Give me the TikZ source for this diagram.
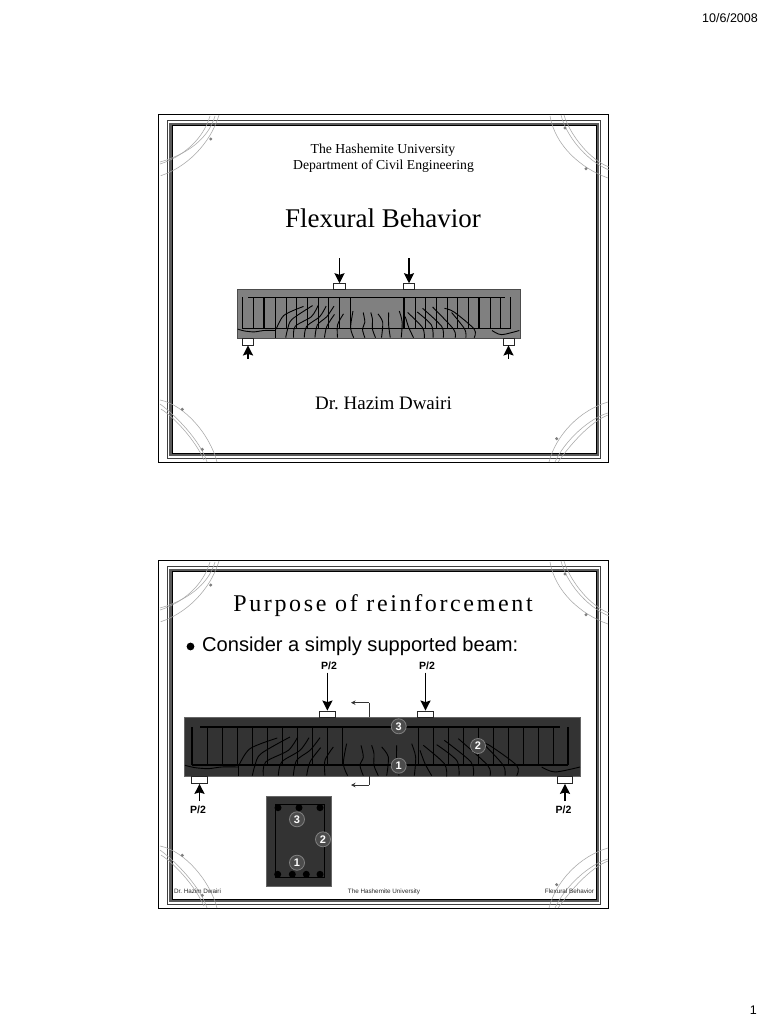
\documentclass[tikz,border=0pt]{standalone}
\usepackage{fontspec}
\setmainfont{Liberation Serif}
\newfontfamily\sansf{Liberation Sans}
\newfontfamily\spacedf[LetterSpace=11]{Liberation Serif}
\usetikzlibrary{arrows.meta}
\frenchspacing
\definecolor{band}{HTML}{5A5A5A}
\definecolor{arcgrey}{HTML}{A8A8A8}
\definecolor{dotgrey}{HTML}{808080}
\definecolor{beamdark}{HTML}{333333}
\definecolor{beamgrey}{HTML}{808080}
\tikzset{
  outerframe/.style={draw=black,line width=1.1pt},
  thinframe/.style={draw=black!75,line width=.7pt},
  bandframe/.style={draw=band,line width=2.8pt},
  innerframe/.style={draw=black,line width=.6pt},
  arcline/.style={draw=arcgrey,line width=.55pt},
  barline/.style={draw=black,line width=1.3pt},
  stirrup/.style={draw=black,line width=.8pt},
  stirrupthick/.style={draw=black,line width=1.3pt},
  crack/.style={draw=black,line width=.9pt,line join=round},
  pad/.style={draw=black!85,fill=white,line width=.8pt,inner sep=0pt},
  loadarrow/.style={draw=black,line width=1.6pt,-{Stealth[length=10pt,width=10pt,inset=1.5pt]}},
  sectarrow/.style={draw=black!80,line width=.7pt,-{Stealth[length=4.5pt,width=4.5pt]}},
  sectline/.style={draw=black!80,line width=.7pt},
  num/.style={circle,draw=black!50,fill=black!70,line width=.8pt,text=white,inner sep=0pt,minimum size=15pt,font=\sansf\bfseries\fontsize{11}{12}\selectfont},
  rebar/.style={circle,fill=black,inner sep=0pt,minimum size=7pt},
  ptxt/.style={font=\sansf\bfseries\fontsize{10.5}{12}\selectfont,inner sep=0pt},
  foot/.style={font=\sansf\fontsize{6.3}{7}\selectfont,text=black!85,inner sep=0pt,anchor=base},
  serifa/.style={font=\fontsize{13.7}{15}\selectfont,inner sep=0pt},
}
\newcommand{\slideframe}{%
  \draw[outerframe] (158.3,114.3) rectangle (608.7,462.7);
  \draw[thinframe] (167.3,120.7) rectangle (600.8,458.2);
  \draw[bandframe] (170.6,124.2) rectangle (597.6,455);
  \draw[innerframe] (172,125.6) rectangle (596.2,453.6);
  \draw[arcline] (160,164) .. controls (182,157) and (203,140) .. (210,116);
  \draw[arcline] (160,162) .. controls (185,155) and (208,140) .. (215,116);
  \draw[arcline] (160.7,175.7) .. controls (185,168) and (210,145) .. (219,115);
  \draw[arcline] (550,116) .. controls (555,145) and (580,168) .. (608,178);
  \draw[arcline] (561,115) .. controls (566,135) and (585,160) .. (609,170);
  \draw[arcline] (564,115) .. controls (570,135) and (590,160) .. (609,167);
  \draw[arcline] (160,400) .. controls (185,405) and (210,435) .. (217,462);
  \draw[arcline] (160,404) .. controls (175,415) and (200,440) .. (207,462);
  \draw[arcline] (161,409) .. controls (175,418) and (195,440) .. (204,460);
  \draw[arcline] (608,402) .. controls (580,410) and (556,435) .. (549,462);
  \draw[arcline] (608,413) .. controls (590,418) and (565,440) .. (555,462);
  \draw[arcline] (608,415) .. controls (590,422) and (570,445) .. (558,462);
  \fill[dotgrey] (210.7,139) circle (1.7) (565,128) circle (1.7) (586,168.7) circle (1.7)
     (182.3,409.3) circle (1.7) (202.3,449.3) circle (1.7) (556.7,438.7) circle (1.7);
}
\newcommand{\beamlines}{%
  \foreach \u in {23.3,38.3,53.7,68.7,83.7,98.7,113.7,128.7,143.7,158.7,234.7,249.7,264.7,279.7,294.7,309.7,324.7,339.7,354.7,369.7}
    {\draw[stirrup] (\u,10) -- (\u,48);}
  \draw[barline] (16,10) -- (376,10);
  \draw[barline] (8,48) -- (384,48);
  \draw[barline] (8,10) -- (8,48);
  \draw[barline] (384,10) -- (384,48);
  \begin{scope}[shift={(-9,-66.67)},scale=.3333]
    \draw[crack] plot[smooth] coordinates {(192,345) (225,295) (307,263)};
    \draw[crack] plot[smooth] coordinates {(190,345) (190,378)};
    \draw[crack] plot[smooth] coordinates {(232,376) (240,345) (258,310) (345,260)};
    \draw[crack] plot[smooth] coordinates {(265,376) (272,335) (340,300) (368,260)};
    \draw[crack] plot[smooth] coordinates {(310,376) (320,335) (375,300) (402,262)};
    \draw[crack] plot[smooth] coordinates {(355,376) (365,330) (405,300) (435,262)};
    \draw[crack] plot[smooth] coordinates {(395,376) (405,335) (437,292)};
    \draw[crack] plot[smooth] coordinates {(450,376) (450,330) (475,290)};
    \draw[crack] plot[smooth] coordinates {(518,376) (505,340) (515,280)};
    \draw[crack] plot[smooth] coordinates {(565,376) (555,345) (565,320) (558,285)};
    \draw[crack] plot[smooth] coordinates {(610,376) (597,345) (597,310) (590,285)};
    \draw[crack] plot[smooth] coordinates {(30,345) (60,352) (100,355) (140,350) (190,350)};
  \end{scope}
  \begin{scope}[shift={(191,-66.67)},scale=.3333]
    \draw[crack] plot[smooth] coordinates {(35,376) (40,320) (20,290)};
    \draw[crack] plot[smooth] coordinates {(72,376) (65,330) (65,285)};
    \draw[crack] plot[smooth] coordinates {(118,376) (122,320) (110,280)};
    \draw[crack] plot[smooth] coordinates {(170,376) (150,340) (135,300)};
    \draw[crack] plot[smooth] coordinates {(215,378) (208,340) (145,285)};
    \draw[crack] plot[smooth] coordinates {(252,376) (245,330) (185,283)};
    \draw[crack] plot[smooth] coordinates {(295,376) (288,335) (208,270)};
    \draw[crack] plot[smooth] coordinates {(345,376) (338,345) (250,265)};
    \draw[crack] plot[smooth] coordinates {(390,376) (385,345) (330,285)};
    \draw[crack] plot[smooth] coordinates {(425,376) (425,345) (340,283) (300,270)};
    \draw[crack] plot[smooth] coordinates {(500,350) (540,365) (615,350)};
  \end{scope}
}
\begin{document}
\begin{tikzpicture}[x=1pt,y=-1pt]
\useasboundingbox (0,0) rectangle (768,1024);
\fill[white] (0,0) rectangle (768,1024);
\node[font=\sansf\fontsize{12.5}{14}\selectfont,anchor=east,inner sep=0pt] (date) at (758,18) {10/6/2008};
\node[font=\sansf\fontsize{12.5}{14}\selectfont,anchor=east,inner sep=0pt] (pageno) at (757,1010) {1};

% ---------- slide 1
\slideframe
\begin{scope}[shift={(0,446)}]\slideframe\end{scope}
\node[serifa] (uni) at (383,150) {The Hashemite University};
\node[serifa] (dept) at (383.5,166) {Department of Civil Engineering};
\node[font=\fontsize{27}{30}\selectfont,inner sep=0pt] (ttl) at (383,218) {Flexural Behavior};
\node[font=\fontsize{19}{20}\selectfont,inner sep=0pt] (auth) at (383.5,403) {Dr. Hazim Dwairi};

\draw[draw=black!70,fill=beamgrey,line width=.7pt] (237,289) rectangle (520,338);
\begin{scope}[shift={(237,289)},xscale=.713,yscale=.83]
  \beamlines
  \foreach \u in {38,83.3,233.8,339.5}{\draw[stirrupthick] (\u,10) -- (\u,48);}
\end{scope}
\node[pad,minimum width=12.4pt,minimum height=5.3pt] (a1) at (339.5,286.3) {};
\node[pad,minimum width=11.4pt,minimum height=5.3pt] (a2) at (409,286.3) {};
\node[pad,minimum width=11.6pt,minimum height=7pt] (a3) at (248,341.5) {};
\node[pad,minimum width=11pt,minimum height=7pt] (a4) at (508.5,341.5) {};
\coordinate (at1) at (339.5,258);
\coordinate (at2) at (409,258);
\coordinate (at3) at (248,358.5);
\coordinate (at4) at (508.5,358.5);
\draw[loadarrow] (at1) -- (a1.north);
\draw[loadarrow] (at2) -- (a2.north);
\draw[loadarrow] (at3) -- (a3.south);
\draw[loadarrow] (at4) -- (a4.south);

% ---------- slide 2
\node[font=\spacedf\fontsize{24}{26}\selectfont,inner sep=0pt] (ttl2) at (383,606) {Purpose of reinforcement};
\fill[black] (190.5,646.5) circle (3.9);
\node[font=\sansf\fontsize{20.1}{24}\selectfont,anchor=west,inner sep=0pt] (bul) at (202,646.5) {Consider a simply supported beam:};

\draw[draw=black!60,fill=beamdark,line width=.7pt] (184,717) rectangle (580.5,776);
\begin{scope}[shift={(184,717)}]
  \beamlines
\end{scope}
\node[pad,minimum width=15.4pt,minimum height=6pt] (b1) at (327.4,714) {};
\node[pad,minimum width=15.6pt,minimum height=6pt] (b2) at (425.5,714) {};
\node[pad,minimum width=15.6pt,minimum height=7.5pt] (b3) at (199.5,779.7) {};
\node[pad,minimum width=15.6pt,minimum height=7.5pt] (b4) at (565,779.7) {};
\coordinate (bt1) at (327.4,672.5);
\coordinate (bt2) at (425.5,672.5);
\coordinate (bt3) at (199.5,801);
\coordinate (bt4) at (565,801);
\draw[loadarrow] (bt1) -- (b1.north);
\draw[loadarrow] (bt2) -- (b2.north);
\draw[loadarrow] (bt3) -- (b3.south);
\draw[loadarrow] (bt4) -- (b4.south);
\node[ptxt] (p1) at (329,666) {P/2};
\node[ptxt] (p2) at (427,666) {P/2};
\node[ptxt] (p3) at (198,810) {P/2};
\node[ptxt] (p4) at (563.5,810) {P/2};

\coordinate (s1) at (369,702.7);
\coordinate (s1a) at (351,702.7);
\coordinate (s1b) at (369,717);
\coordinate (s2) at (369,785);
\coordinate (s2a) at (351,785);
\coordinate (s2b) at (369,776);
\draw[sectline] (s1b) -- (s1);
\draw[sectarrow] (s1) -- (s1a);
\draw[sectline] (s2b) -- (s2);
\draw[sectarrow] (s2) -- (s2a);

\node[num] (n3) at (398.7,726.3) {3};
\node[num] (n2) at (478,746) {2};
\node[num] (n1) at (398.7,765.7) {1};

% section
\draw[draw=black!60,fill=beamdark,line width=.8pt] (266.7,796) rectangle (331.7,886);
\draw[draw=black,line width=.8pt] (275,804) rectangle (324,877.5);
\foreach \x/\n in {278/t1,299/t2,320/t3}{\node[rebar] (\n) at (\x,807.7) {};}
\foreach \x/\n in {277.7/u1,292.3/u2,306.3/u3,320/u4}{\node[rebar] (\n) at (\x,874.3) {};}
\node[num] (m3) at (297,819.3) {3};
\node[num] (m2) at (323,839.3) {2};
\node[num] (m1) at (297,862.7) {1};

% footer
\node[foot] (f1) at (197.5,893) {Dr. Hazim Dwairi};
\node[foot] (f2) at (384,893) {The Hashemite University};
\node[foot] (f3) at (569.5,893) {Flexural Behavior};
\end{tikzpicture}
\end{document}
